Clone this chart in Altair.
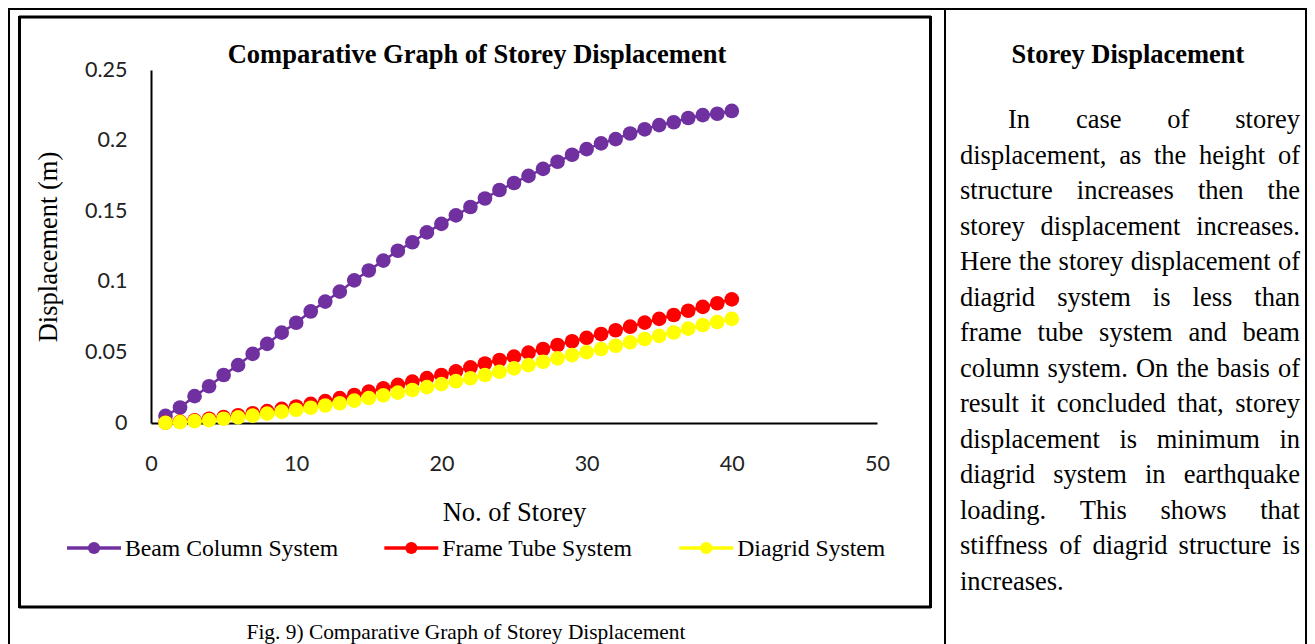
import altair as alt
import pandas as pd

# ---------------- data ----------------
storeys = list(range(1, 41))
beam_column = [0.005, 0.011, 0.019, 0.026, 0.034, 0.041, 0.049, 0.056, 0.064, 0.071,
               0.079, 0.086, 0.093, 0.101, 0.108, 0.115, 0.122, 0.128, 0.135, 0.141,
               0.147, 0.153, 0.159, 0.165, 0.170, 0.175, 0.180, 0.185, 0.190, 0.194,
               0.198, 0.201, 0.205, 0.208, 0.211, 0.213, 0.216, 0.218, 0.219, 0.221]
frame_tube = [0.0003, 0.0010, 0.0019, 0.0030, 0.0042, 0.0055, 0.0069, 0.0084, 0.0100, 0.0117,
              0.0135, 0.0155, 0.0176, 0.0198, 0.0222, 0.0245, 0.0270, 0.0293, 0.0318, 0.0340,
              0.0366, 0.0394, 0.0421, 0.0446, 0.0470, 0.0498, 0.0524, 0.0552, 0.0579, 0.0603,
              0.0630, 0.0657, 0.0682, 0.0711, 0.0737, 0.0765, 0.0795, 0.0822, 0.0848, 0.0876]
diagrid = [0.0002, 0.0006, 0.0013, 0.0020, 0.0030, 0.0040, 0.0052, 0.0066, 0.0080, 0.0094,
           0.0108, 0.0124, 0.0140, 0.0158, 0.0177, 0.0196, 0.0215, 0.0234, 0.0254, 0.0275,
           0.0296, 0.0317, 0.0340, 0.0363, 0.0387, 0.0410, 0.0434, 0.0458, 0.0481, 0.0502,
           0.0524, 0.0547, 0.0571, 0.0595, 0.0617, 0.0641, 0.0668, 0.0694, 0.0715, 0.0737]
series_names = ["Beam Column System", "Frame Tube System", "Diagrid System"]
series_colors = ["#7030A0", "#FF0000", "#FFFF00"]
x_ticks = [0, 10, 20, 30, 40, 50]
y_ticks = [0, 0.05, 0.1, 0.15, 0.2, 0.25]

chart_title = "Comparative Graph of Storey Displacement"
x_title = "No. of Storey"
y_title = "Displacement (m)"
caption = "Fig. 9) Comparative Graph of Storey Displacement"
side_heading = "Storey Displacement"
side_lines = [
    "In case of storey",
    "displacement, as the height of",
    "structure increases then the",
    "storey displacement increases.",
    "Here the storey displacement of",
    "diagrid system is less than",
    "frame tube system and beam",
    "column system. On the basis of",
    "result it concluded that, storey",
    "displacement is minimum in",
    "diagrid system in earthquake",
    "loading. This shows that",
    "stiffness of diagrid structure is",
    "increases.",
]

# ---------------- layout (page pixels) ----------------
OX, OY = 151, 70          # plot origin on the page
PW, PH = 726, 353         # plot area size
SVG_W, SVG_H = 1299, 636
SERIF = "Liberation Serif"
SANS = "Lato"

# Times / Liberation Serif advance widths (per 1000 em)
TNR = {"a": 444, "b": 500, "c": 444, "d": 500, "e": 444, "f": 333, "g": 500, "h": 500,
       "i": 278, "j": 278, "k": 500, "l": 278, "m": 778, "n": 500, "o": 500, "p": 500,
       "q": 500, "r": 333, "s": 389, "t": 278, "u": 500, "v": 500, "w": 722, "x": 500,
       "y": 500, "z": 444, "B": 667, "C": 667, "D": 722, "F": 556, "H": 722, "I": 333,
       "O": 722, "S": 556, "T": 611, ",": 250, ".": 250, " ": 250}


def tw(s, size):
    return sum(TNR.get(c, 500) for c in s) * size / 1000.0


rows = []
for name, vals in zip(series_names, [beam_column, frame_tube, diagrid]):
    for s, v in zip(storeys, vals):
        rows.append({"storey": s, "disp": v, "system": name})
df = pd.DataFrame(rows)

x_enc = alt.X("storey:Q", title=x_title,
              scale=alt.Scale(domain=[0, 50], nice=False),
              axis=alt.Axis(values=x_ticks, format="d", grid=False, ticks=False, tickSize=0,
                            labelFlush=False,
                            domainColor="black", domainWidth=2,
                            labelFont=SANS, labelFontSize=21.5, labelColor="#222222",
                            labelPadding=30,
                            titleFont=SERIF, titleFontSize=26.5, titleFontWeight="normal",
                            titleColor="black", titlePadding=25))
y_enc = alt.Y("disp:Q", title=y_title,
              scale=alt.Scale(domain=[0, 0.25], nice=False),
              axis=alt.Axis(values=y_ticks, format="~g", grid=False, ticks=False, tickSize=0,
                            labelFlush=False,
                            domainColor="black", domainWidth=2,
                            labelFont=SANS, labelFontSize=21.5, labelColor="#222222",
                            labelPadding=24,
                            titleFont=SERIF, titleFontSize=26.5, titleFontWeight="normal",
                            titleColor="black", titlePadding=22))
color_scale = alt.Scale(domain=series_names, range=series_colors)

lines = alt.Chart(df).mark_line(strokeWidth=2.5).encode(
    x=x_enc, y=y_enc,
    stroke=alt.Stroke("system:N", scale=color_scale, legend=None),
)
points = alt.Chart(df).mark_circle(size=215, opacity=1).encode(
    x=x_enc, y=y_enc,
    fill=alt.Fill("system:N", scale=color_scale, legend=None),
)

# ---- legend (line + marker + label per series), laid out from label widths ----
LEG_FONT = 23.7
LEG_SYM_W = 54
LEG_LABEL_GAP = 4
LEG_COL_GAP = 46
LEG_X0, LEG_Y = 67, 548
leg_rows = []
x = LEG_X0
for name, col in zip(series_names, series_colors):
    leg_rows.append({"name": name, "col": col, "lx": x - OX, "lx2": x + LEG_SYM_W - OX,
                     "cx": x + LEG_SYM_W / 2 - OX, "tx": x + LEG_SYM_W + LEG_LABEL_GAP - OX})
    x += LEG_SYM_W + LEG_LABEL_GAP + tw(name, LEG_FONT) + LEG_COL_GAP
leg_df = pd.DataFrame(leg_rows)
leg_lines = alt.Chart(leg_df).mark_rule(strokeWidth=3.5).encode(
    x=alt.X("lx:Q", scale=None, axis=None), x2="lx2:Q",
    y=alt.value(LEG_Y - OY),
    stroke=alt.Stroke("col:N", scale=None, legend=None))
leg_dots = alt.Chart(leg_df).mark_circle(size=150, opacity=1).encode(
    x=alt.X("cx:Q", scale=None, axis=None),
    y=alt.value(LEG_Y - OY),
    fill=alt.Fill("col:N", scale=None, legend=None))
leg_text = alt.Chart(leg_df).mark_text(
    font=SERIF, fontSize=LEG_FONT, color="black", align="left", baseline="alphabetic").encode(
    x=alt.X("tx:Q", scale=None, axis=None),
    y=alt.value(LEG_Y + 8 - OY),
    text="name:N")

one = pd.DataFrame({"k": [1]})


def hline(x1, x2, y, w):
    return alt.Chart(one).mark_rule(color="black", strokeWidth=w).encode(
        x=alt.value(x1 - OX), x2=alt.value(x2 - OX), y=alt.value(y - OY))


def vline(x, y1, y2, w):
    return alt.Chart(one).mark_rule(color="black", strokeWidth=w).encode(
        x=alt.value(x - OX), y=alt.value(y1 - OY), y2=alt.value(y2 - OY))


frames = [
    # outer table
    hline(8, 1307, 9, 2), vline(9, 8, 644, 2), vline(945, 8, 644, 2), vline(1306, 8, 644, 2),
    # chart frame
    hline(19, 931, 17, 3), hline(19, 931, 607, 3), vline(19.5, 16, 608, 3), vline(930.5, 16, 608, 3),
]


def text_at(txt, x, y, size, weight="normal", align="center"):
    return alt.Chart(pd.DataFrame({"t": [txt]})).mark_text(
        font=SERIF, fontSize=size, fontWeight=weight, color="black",
        align=align, baseline="alphabetic").encode(
        x=alt.value(x - OX), y=alt.value(y - OY), text="t:N")


texts = [
    text_at(chart_title, 477, 63, 26.5, "bold"),
    text_at(caption, 466, 639, 21.4),
    text_at(side_heading, 1128, 63, 26.5, "bold"),
]

# justified paragraph on the right
BODY = 26.5
LEFT, RIGHT, INDENT = 960, 1300, 48
BASE0, STEP = 128, 35.5

words = []
for i, line in enumerate(side_lines):
    ws = line.split()
    x0 = LEFT + (INDENT if i == 0 else 0)
    y = BASE0 + i * STEP
    widths = [tw(w, BODY) for w in ws]
    if i == len(side_lines) - 1 or len(ws) == 1:
        gap = tw(" ", BODY)
    else:
        gap = (RIGHT - x0 - sum(widths)) / (len(ws) - 1)
    x = x0
    for w, wd in zip(ws, widths):
        words.append({"word": w, "px": x - OX, "py": y - OY})
        x += wd + gap
words_df = pd.DataFrame(words)
body = alt.Chart(words_df).mark_text(
    font=SERIF, fontSize=BODY, color="black", align="left", baseline="alphabetic").encode(
    x=alt.X("px:Q", scale=None, axis=None),
    y=alt.Y("py:Q", scale=None, axis=None),
    text="word:N")

chart = alt.layer(*frames, lines, points, leg_lines, leg_dots, leg_text, *texts, body).properties(
    width=PW, height=PH,
    padding={"left": OX - 8, "top": OY - 8,
             "right": SVG_W - (OX - 8) - PW, "bottom": SVG_H - (OY - 8) - PH},
    autosize=alt.AutoSizeParams(type="none"),
    background="white",
).configure_view(strokeWidth=0, stroke="transparent")

chart.save("out.html", embed_options={"renderer": "svg", "actions": False})
